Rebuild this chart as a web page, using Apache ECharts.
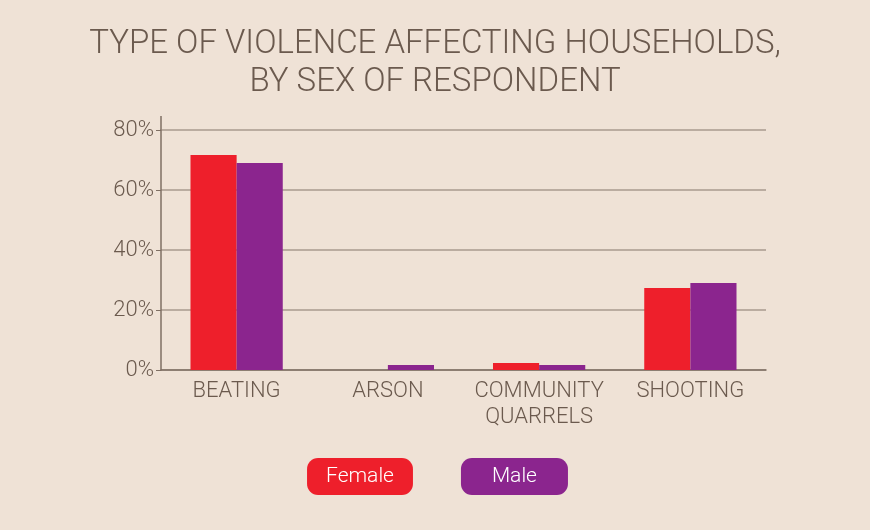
<!DOCTYPE html>
<html>
<head>
<meta charset="utf-8">
<script src="https://cdn.jsdelivr.net/npm/echarts@6/dist/echarts.min.js"></script>
<style>
  html, body { margin: 0; padding: 0; background: #fff; }
  #chart { width: 870px; height: 530px; }
</style>
</head>
<body>
<div id="chart"></div>
<script>
const categories = ['BEATING', 'ARSON', 'COMMUNITY\nQUARRELS', 'SHOOTING'];
const female = [71.7, 0, 2.3, 27.3];
const male = [69, 1.7, 1.7, 29];
const yTicks = [0, 20, 40, 60, 80];

const textColor = '#6b5a4e';
const femaleColor = '#ee1f2b';
const maleColor = '#8b258e';

const chart = echarts.init(document.getElementById('chart'));

chart.setOption({
    backgroundColor: '#efe2d6',
    animation: false,
    title: {
        text: 'TYPE OF VIOLENCE AFFECTING HOUSEHOLDS,\nBY SEX OF RESPONDENT',
        left: 'center',
        top: 21,
        textStyle: {
            fontFamily: 'Roboto',
            fontWeight: 300,
            fontSize: 33,
            lineHeight: 38,
            color: textColor,
            align: 'center'
        }
    },
    legend: {
        bottom: 30,
        left: 'center',
        itemWidth: 0,
        itemHeight: 0,
        itemGap: 43,
        icon: 'none',
        selectedMode: false,
        data: [
            { name: 'Female', textStyle: { backgroundColor: femaleColor, padding: [8, 19, 8, 19] } },
            { name: 'Male', textStyle: { backgroundColor: maleColor, padding: [8, 31, 8, 31] } }
        ],
        textStyle: {
            fontFamily: 'Roboto',
            fontWeight: 300,
            fontSize: 21,
            lineHeight: 21,
            color: '#fff',
            borderRadius: 11
        }
    },
    grid: {
        left: 161,
        right: 104,
        top: 130,
        bottom: 160
    },
    xAxis: {
        type: 'category',
        data: categories,
        axisTick: { show: false },
        axisLine: { lineStyle: { color: '#7f6f63', width: 1.5 } },
        axisLabel: {
            color: textColor,
            fontFamily: 'Roboto',
            fontWeight: 300,
            fontSize: 22,
            lineHeight: 26,
            margin: 8,
            interval: 0
        }
    },
    yAxis: {
        type: 'value',
        min: yTicks[0],
        max: yTicks[yTicks.length - 1],
        interval: 20,
        axisLine: { show: true, lineStyle: { color: '#7f6f63', width: 1.5 } },
        axisTick: { show: true, length: 5, lineStyle: { color: '#7f6f63' } },
        axisLabel: {
            color: textColor,
            fontFamily: 'Roboto',
            fontWeight: 300,
            fontSize: 22,
            margin: 7,
            formatter: '{value}%'
        },
        splitLine: { lineStyle: { color: '#a89a8e', width: 1.5 } }
    },
    graphic: [{
        type: 'line',
        shape: { x1: 161, y1: 116, x2: 161, y2: 130 },
        style: { stroke: '#7f6f63', lineWidth: 1.5 }
    }],
    series: [
        {
            name: 'Female',
            type: 'bar',
            data: female,
            barGap: 0,
            barCategoryGap: '39%',
            itemStyle: { color: femaleColor }
        },
        {
            name: 'Male',
            type: 'bar',
            data: male,
            itemStyle: { color: maleColor }
        }
    ]
});
</script>
</body>
</html>
